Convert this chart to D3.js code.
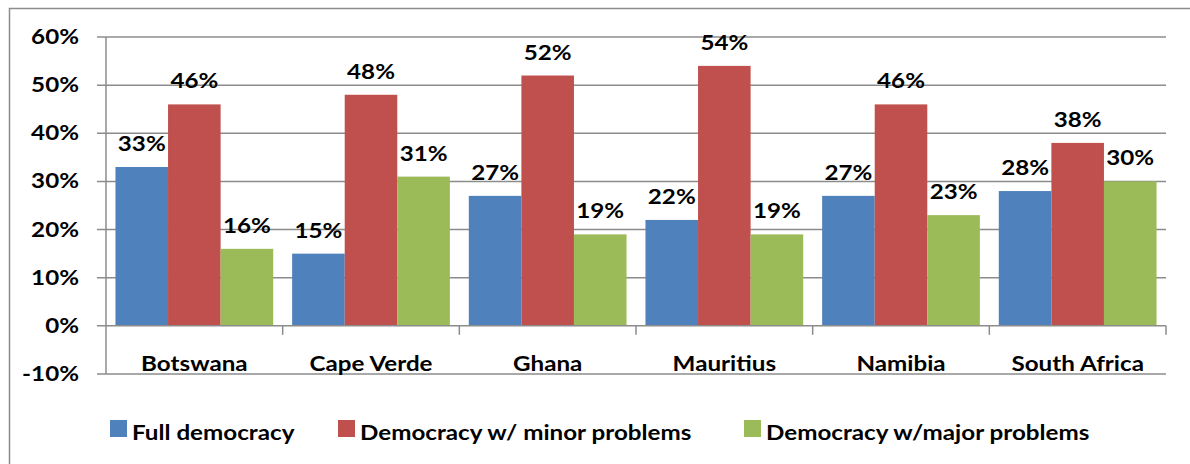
<!DOCTYPE html>
<html>
<head>
<meta charset="utf-8">
<script src="https://cdn.jsdelivr.net/npm/d3@7"></script>
<style>
  body { margin: 0; background: #fff; }
  svg text { font-family: Lato, "Open Sans", sans-serif; font-weight: bold; fill: #000; font-size: 20px; }
</style>
</head>
<body>
<svg id="chart"></svg>
<script>
const w = 1190;
const h = 464;

const countries = ["Botswana", "Cape Verde", "Ghana", "Mauritius", "Namibia", "South Africa"];
const seriesNames = ["Full democracy", "Democracy w/ minor problems", "Democracy w/major problems"];
const fullDemocracy = [33, 15, 27, 22, 27, 28];
const minorProblems = [46, 48, 52, 54, 46, 38];
const majorProblems = [16, 31, 19, 19, 23, 30];
const yTicks = [-10, 0, 10, 20, 30, 40, 50, 60];
const colors = ["#4f81bd", "#c0504d", "#9bbb59"];

const seriesValues = [fullDemocracy, minorProblems, majorProblems];

const plotLeft = 106;
const plotRight = 1166;
const plotTop = 37;
const plotBottom = 374;
const stretch = 1.21; // text in the original is horizontally widened

const svg = d3.select("#chart").attr("width", w).attr("height", h);

// place text with a horizontal stretch around its anchor point
const place = (x, y) => `translate(${x},${y}) scale(${stretch},1)`;

// outer frame
svg
  .append("rect")
  .attr("x", 9.5)
  .attr("y", 8.5)
  .attr("width", w + 10)
  .attr("height", h + 10)
  .attr("fill", "none")
  .attr("stroke", "#8c8c8c")
  .attr("stroke-width", 1.5);

const xScale = d3.scaleBand().domain(countries).range([plotLeft, plotRight]).padding(0);
const innerScale = d3
  .scaleBand()
  .domain(seriesNames)
  .range([0, xScale.bandwidth()])
  .paddingInner(0)
  .paddingOuter(0.18);
const yScale = d3.scaleLinear().domain([-10, 60]).range([plotBottom, plotTop]);

// gridlines
svg
  .append("g")
  .selectAll("line")
  .data(yTicks.filter((t) => t > 0))
  .enter()
  .append("line")
  .attr("x1", plotLeft - 9)
  .attr("x2", plotRight)
  .attr("y1", (d) => yScale(d))
  .attr("y2", (d) => yScale(d))
  .attr("stroke", "#8c8c8c")
  .attr("stroke-width", 1.5);

// bars
const rows = [];
countries.forEach((c, i) => {
  seriesNames.forEach((s, j) => {
    rows.push({ country: c, series: s, value: seriesValues[j][i], color: colors[j] });
  });
});

svg
  .append("g")
  .selectAll("rect")
  .data(rows)
  .enter()
  .append("rect")
  .attr("x", (d) => xScale(d.country) + innerScale(d.series))
  .attr("y", (d) => yScale(d.value))
  .attr("width", innerScale.bandwidth())
  .attr("height", (d) => yScale(0) - yScale(d.value))
  .attr("fill", (d) => d.color);

// value labels
svg
  .append("g")
  .selectAll("text")
  .data(rows)
  .enter()
  .append("text")
  .attr("transform", (d) =>
    place(xScale(d.country) + innerScale(d.series) + innerScale.bandwidth() / 2, yScale(d.value) - 16)
  )
  .attr("text-anchor", "middle")
  .text((d) => d.value + "%");

// zero line with category ticks
svg
  .append("line")
  .attr("x1", plotLeft - 9)
  .attr("x2", plotRight)
  .attr("y1", yScale(0))
  .attr("y2", yScale(0))
  .attr("stroke", "#8c8c8c")
  .attr("stroke-width", 1.5);

const boundaries = countries.map((c) => xScale(c)).concat([plotRight]);
svg
  .append("g")
  .selectAll("line")
  .data(boundaries.slice(1))
  .enter()
  .append("line")
  .attr("x1", (d) => d)
  .attr("x2", (d) => d)
  .attr("y1", yScale(0))
  .attr("y2", yScale(0) + 9)
  .attr("stroke", "#8c8c8c")
  .attr("stroke-width", 1.5);

// bottom line at -10%
svg
  .append("line")
  .attr("x1", plotLeft - 9)
  .attr("x2", plotRight)
  .attr("y1", yScale(-10))
  .attr("y2", yScale(-10))
  .attr("stroke", "#8c8c8c")
  .attr("stroke-width", 1.5);

// y axis line
svg
  .append("line")
  .attr("x1", plotLeft)
  .attr("x2", plotLeft)
  .attr("y1", plotTop)
  .attr("y2", plotBottom)
  .attr("stroke", "#8c8c8c")
  .attr("stroke-width", 1.5);

// y tick labels
svg
  .append("g")
  .selectAll("text")
  .data(yTicks)
  .enter()
  .append("text")
  .attr("transform", (d) => place(79, yScale(d) + 7))
  .attr("text-anchor", "end")
  .text((d) => d + "%");

// category labels
svg
  .append("g")
  .selectAll("text")
  .data(countries)
  .enter()
  .append("text")
  .attr("transform", (d) => place(xScale(d) + xScale.bandwidth() / 2, 371))
  .attr("text-anchor", "middle")
  .text((d) => d);

// legend
const legendX = [110, 338, 744];
const legend = svg.append("g").attr("id", "legend");
seriesNames.forEach((s, j) => {
  legend
    .append("rect")
    .attr("x", legendX[j])
    .attr("y", 420)
    .attr("width", 17)
    .attr("height", 17)
    .attr("fill", colors[j]);
  legend
    .append("text")
    .attr("transform", place(legendX[j] + 22, 440))
    .text(s);
});
</script>
</body>
</html>
